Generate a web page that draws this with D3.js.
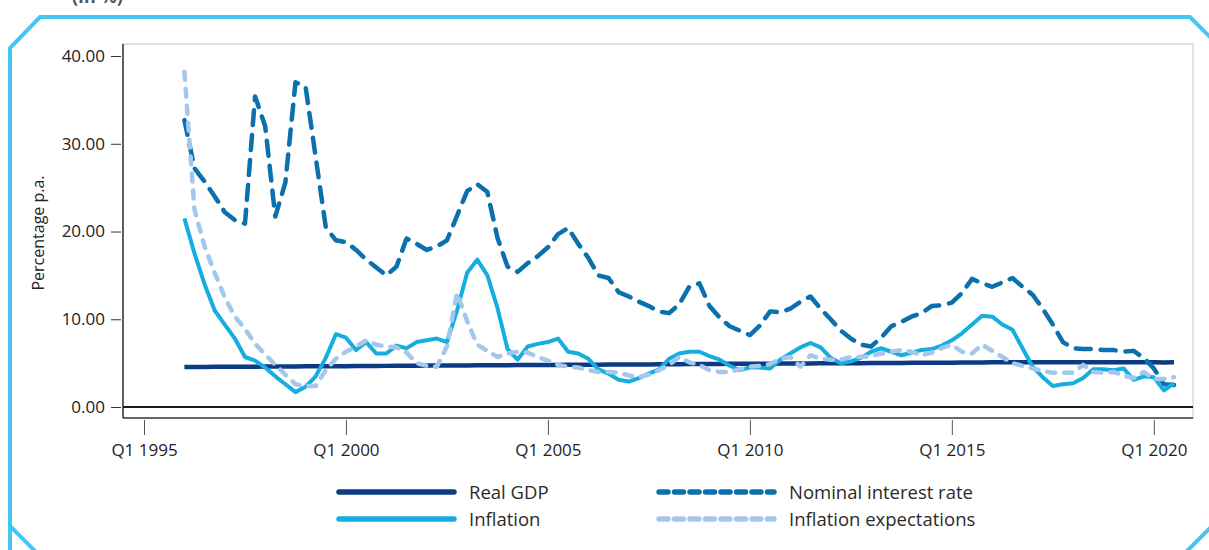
<!DOCTYPE html>
<html>
<head>
<meta charset="utf-8">
<script src="https://cdn.jsdelivr.net/npm/d3@7"></script>
<style>
  body { margin: 0; background: #ffffff; }
  svg { display: block; font-family: "Open Sans", "Noto Sans", sans-serif; }
</style>
</head>
<body>
<svg id="chart" width="1209" height="550"></svg>
<script>
// quarterly series, Q1 1996 .. Q3 2020 (in % p.a.)
var firstYear = 1996;
var xTickYears = [1995, 2000, 2005, 2010, 2015, 2020];
var yTickValues = [0, 10, 20, 30, 40];

var realGDP = [
  4.55, 4.56, 4.57, 4.58, 4.58, 4.59, 4.60, 4.60, 4.61, 4.62,
  4.62, 4.63, 4.64, 4.64, 4.65, 4.66, 4.66, 4.67, 4.68, 4.68,
  4.69, 4.70, 4.70, 4.71, 4.72, 4.72, 4.73, 4.74, 4.74, 4.75,
  4.76, 4.76, 4.77, 4.78, 4.78, 4.79, 4.80, 4.80, 4.81, 4.82,
  4.82, 4.83, 4.84, 4.84, 4.85, 4.86, 4.86, 4.87, 4.88, 4.88,
  4.89, 4.90, 4.90, 4.91, 4.92, 4.92, 4.93, 4.94, 4.94, 4.95,
  4.96, 4.96, 4.97, 4.98, 4.98, 4.99, 5.00, 5.00, 5.01, 5.02,
  5.02, 5.03, 5.04, 5.04, 5.05, 5.06, 5.06, 5.07, 5.08, 5.08,
  5.09, 5.10, 5.10, 5.10, 5.10, 5.10, 5.10, 5.10, 5.10, 5.10,
  5.10, 5.10, 5.10, 5.10, 5.10, 5.10, 5.10, 5.08, 5.10
];

var inflation = [
  21.5, 17.5, 14.0, 11.0, 9.4, 7.8, 5.7, 5.3, 4.5, 3.5,
  2.6, 1.7, 2.3, 3.5, 5.6, 8.3, 7.9, 6.5, 7.4, 6.1,
  6.1, 7.0, 6.7, 7.4, 7.6, 7.8, 7.4, 11.0, 15.3, 16.8,
  15.0, 11.3, 6.6, 5.4, 6.9, 7.2, 7.4, 7.8, 6.3, 6.1,
  5.5, 4.3, 3.8, 3.1, 2.9, 3.3, 3.8, 4.3, 5.5, 6.1,
  6.3, 6.3, 5.8, 5.4, 4.7, 4.2, 4.5, 4.5, 4.4, 5.4,
  6.1, 6.8, 7.3, 6.8, 5.6, 5.0, 5.2, 5.6, 6.3, 6.7,
  6.3, 5.9, 6.2, 6.5, 6.6, 7.0, 7.6, 8.4, 9.4, 10.4,
  10.3, 9.4, 8.8, 6.7, 4.6, 3.4, 2.4, 2.6, 2.7, 3.3,
  4.3, 4.3, 4.2, 4.4, 3.1, 3.5, 3.4, 1.9, 2.7
];

var nominalRate = [
  32.7, 27.2, 25.7, 24.0, 22.2, 21.3, 20.9, 35.4, 32.0, 21.7,
  25.6, 37.0, 36.5, 28.5, 20.5, 19.0, 18.8, 17.9, 16.8, 15.9,
  15.0, 16.0, 19.2, 18.6, 17.9, 18.3, 19.0, 21.8, 24.6, 25.4,
  24.5, 19.3, 16.0, 15.4, 16.4, 17.2, 18.2, 19.7, 20.4, 18.6,
  17.0, 15.0, 14.7, 13.1, 12.6, 12.0, 11.5, 10.9, 10.7, 11.7,
  13.7, 14.1, 11.5, 10.2, 9.2, 8.7, 8.2, 9.3, 10.9, 10.8,
  11.2, 12.0, 12.6, 11.2, 10.0, 8.7, 7.8, 7.1, 6.9, 7.9,
  9.2, 9.7, 10.3, 10.7, 11.5, 11.6, 11.9, 13.0, 14.6, 14.1,
  13.7, 14.2, 14.7, 13.7, 12.8, 11.2, 9.4, 7.4, 6.7, 6.6,
  6.6, 6.5, 6.5, 6.3, 6.4, 5.6, 4.4, 2.6, 2.5
];

var inflationExpectations = [
  38.2, 22.5, 18.3, 15.3, 12.5, 10.3, 8.9, 7.2, 6.0, 4.8,
  3.7, 2.6, 2.4, 2.4, 4.2, 5.5, 6.3, 6.9, 7.6, 7.1,
  6.9, 6.8, 6.2, 5.0, 4.7, 4.6, 6.9, 13.0, 9.8, 7.1,
  6.4, 5.7, 6.1, 6.3, 6.2, 5.7, 5.3, 4.8, 4.6, 4.5,
  4.2, 4.0, 4.0, 3.9, 3.6, 3.4, 3.7, 4.2, 4.8, 5.7,
  5.1, 4.8, 4.2, 4.0, 4.0, 4.3, 4.6, 4.7, 4.9, 5.5,
  5.7, 4.6, 5.9, 5.5, 5.4, 5.4, 5.7, 5.7, 5.8, 6.1,
  6.3, 6.5, 6.3, 5.9, 6.2, 6.7, 7.1, 6.3, 6.1, 7.1,
  6.4, 5.7, 5.0, 4.7, 4.4, 4.1, 3.9, 3.9, 3.9, 4.8,
  4.0, 3.9, 4.0, 3.6, 3.3, 4.0, 3.2, 3.2, 3.4
];

var seriesList = [
  { name: "Real GDP", values: realGDP, color: "#0c3b84", width: 4.5, dash: null, legendDash: null },
  { name: "Inflation", values: inflation, color: "#16ade0", width: 4, dash: null, legendDash: null },
  { name: "Nominal interest rate", values: nominalRate, color: "#0a70ae", width: 4.5, dash: "15,10", legendDash: "9,6.5" },
  { name: "Inflation expectations", values: inflationExpectations, color: "#a4c8eb", width: 4.5, dash: "8,9", legendDash: "9,6.5" }
];

function drawChart(svg) {
  var left = 123, right = 1193, top = 44, bottom = 418;

  // outer cyan frame with cut corners
  svg.append("path")
    .attr("d", "M10,560 L10,526 L10,48 L40,17 L1190,17 L1215,42")
    .attr("fill", "none")
    .attr("stroke", "#45c6f0")
    .attr("stroke-width", 4);
  svg.append("path")
    .attr("d", "M10,526 L36,552")
    .attr("fill", "none")
    .attr("stroke", "#45c6f0")
    .attr("stroke-width", 4);
  svg.append("path")
    .attr("d", "M1184,554 L1212,526")
    .attr("fill", "none")
    .attr("stroke", "#45c6f0")
    .attr("stroke-width", 4);

  // title, cut at the top edge like in the source
  svg.append("text")
    .attr("x", 72)
    .attr("y", 3)
    .attr("fill", "#555")
    .attr("font-weight", "bold")
    .attr("font-size", "18px")
    .text("(In %)");

  var x = d3.scaleLinear()
    .domain([1994.48, 2020.97])
    .range([left, right]);
  var y = d3.scaleLinear()
    .domain([-1.25, 41.37])
    .range([bottom, top]);

  // plot box
  svg.append("rect")
    .attr("x", left)
    .attr("y", top)
    .attr("width", right - left)
    .attr("height", bottom - top)
    .attr("fill", "none")
    .attr("stroke", "#d9d9d9")
    .attr("stroke-width", 1.5);
  svg.append("line")
    .attr("x1", left).attr("x2", right)
    .attr("y1", bottom).attr("y2", bottom)
    .attr("stroke", "#666")
    .attr("stroke-width", 2);
  svg.append("line")
    .attr("x1", left).attr("x2", left)
    .attr("y1", top).attr("y2", bottom)
    .attr("stroke", "#333")
    .attr("stroke-width", 1.5);

  // y axis
  var yAxis = svg.append("g")
    .attr("transform", "translate(" + (left - 2) + ",0)")
    .call(d3.axisLeft(y)
      .tickValues(yTickValues)
      .tickSize(10)
      .tickPadding(6)
      .tickFormat(d3.format(".2f")));
  yAxis.select(".domain").remove();
  yAxis.selectAll("line").attr("stroke", "#333");
  yAxis.selectAll("text")
    .attr("fill", "#222")
    .attr("font-size", "17px")
    .attr("font-family", "Open Sans");

  // x axis (ticks below the box)
  var xAxis = svg.append("g")
    .attr("transform", "translate(0," + (bottom + 2) + ")")
    .call(d3.axisBottom(x)
      .tickValues(xTickYears)
      .tickSize(15)
      .tickPadding(9)
      .tickFormat(function(d){ return "Q1 " + d; }));
  xAxis.select(".domain").remove();
  xAxis.selectAll("line").attr("stroke", "#555");
  xAxis.selectAll("text")
    .attr("fill", "#222")
    .attr("font-size", "17px")
    .attr("font-family", "Open Sans");

  svg.append("text")
    .attr("transform", "translate(44," + ((top + bottom) / 2 + 2) + ") rotate(-90)")
    .attr("text-anchor", "middle")
    .attr("fill", "#222")
    .attr("font-size", "16px")
    .text("Percentage p.a.");

  // zero line
  svg.append("line")
    .attr("x1", left).attr("x2", right)
    .attr("y1", y(0)).attr("y2", y(0))
    .attr("stroke", "#1a1a1a")
    .attr("stroke-width", 2);

  var line = d3.line()
    .x(function(d, i){ return x(firstYear + i / 4); })
    .y(function(d){ return y(d); });

  // draw order: gdp, nominal, inflation, expectations
  var order = [0, 2, 1, 3];
  order.forEach(function(k) {
    var s = seriesList[k];
    svg.append("path")
      .datum(s.values)
      .attr("d", line)
      .attr("fill", "none")
      .attr("stroke", s.color)
      .attr("stroke-width", s.width)
      .attr("stroke-linejoin", "round")
      .attr("stroke-linecap", s.dash ? "round" : "butt")
      .attr("stroke-dasharray", s.dash);
  });

  // legend
  var legendPos = [[337, 492], [337, 519], [657, 492], [657, 519]];
  seriesList.forEach(function(s, i) {
    var p = legendPos[i];
    svg.append("line")
      .attr("x1", p[0] + 2).attr("x2", p[0] + 117)
      .attr("y1", p[1]).attr("y2", p[1])
      .attr("stroke", s.color)
      .attr("stroke-width", 5.5)
      .attr("stroke-linecap", "round")
      .attr("stroke-dasharray", s.legendDash);
    svg.append("text")
      .attr("x", p[0] + 132)
      .attr("y", p[1])
      .attr("dy", "0.36em")
      .attr("fill", "#2a2a2a")
      .attr("font-size", "18.5px")
      .text(s.name);
  });
}

drawChart(d3.select("#chart"));
</script>
</body>
</html>
